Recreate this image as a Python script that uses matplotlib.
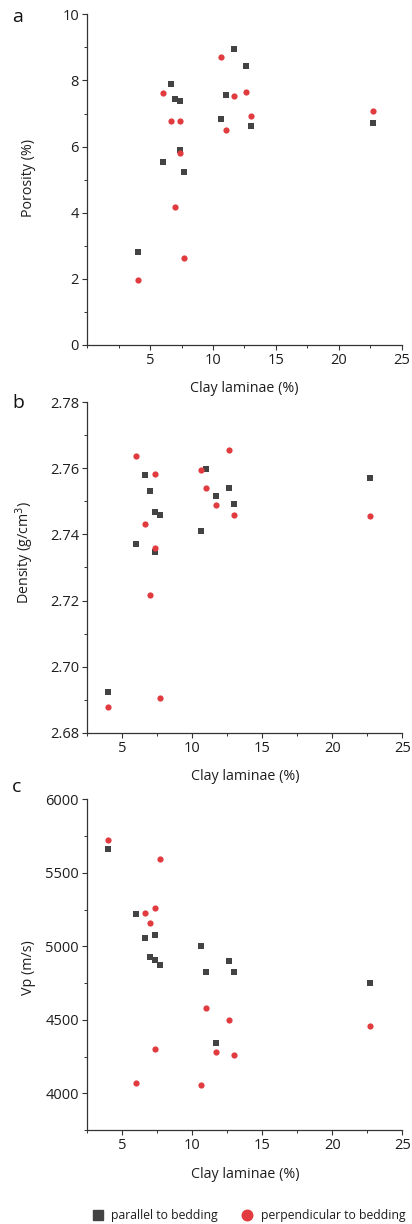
import matplotlib
matplotlib.use("Agg")
import matplotlib.pyplot as plt
from matplotlib.ticker import MultipleLocator, FuncFormatter
from matplotlib.lines import Line2D

plt.rcParams['font.family'] = ['Open Sans', 'DejaVu Sans']

clay = [4.0, 6.0, 6.65, 7.0, 7.35, 7.35, 7.7, 10.65, 11.0, 11.7, 12.65, 13.0, 22.7]

porosity_par = [2.82, 5.54, 7.89, 7.43, 7.38, 5.89, 5.24, 6.84, 7.55, 8.96, 8.45, 6.63, 6.71]
porosity_perp = [1.96, 7.61, 6.76, 4.17, 6.76, 5.81, 2.63, 8.72, 6.51, 7.52, 7.66, 6.91, 7.08]

density_par = [2.6922, 2.7370, 2.7579, 2.7533, 2.7467, 2.7347, 2.7459, 2.7409, 2.7597,
               2.7516, 2.7541, 2.7493, 2.7570]
density_perp = [2.6878, 2.7638, 2.7433, 2.7218, 2.7584, 2.7358, 2.6906, 2.7595, 2.7541,
                2.7489, 2.7655, 2.7459, 2.7455]

vp_par = [5659, 5218, 5059, 4926, 5074, 4909, 4870, 5001, 4822, 4342, 4897, 4827, 4749]
vp_perp = [5724, 4070, 5224, 5156, 5258, 4301, 5595, 4056, 4583, 4281, 4497, 4261, 4456]

panel_letters = ['a', 'b', 'c']
y_labels = ['Porosity (%)', 'Density (g/cm$^3$)', 'Vp (m/s)']
x_label = 'Clay laminae (%)'
x_ticks = [5, 10, 15, 20, 25]
legend_labels = ['parallel to bedding', 'perpendicular to bedding']

SQ = '#434343'
RED = '#e13b3f'
SPINE = '#333333'
TXT = '#1e1e1e'
TICK_FS = 10.5
LAB_FS = 10.3

fig = plt.figure(figsize=(4.12, 12.24), dpi=100)
W, H = 412.0, 1224.0

def ax_at(left, top, right, bottom):
    return fig.add_axes([left / W, 1 - bottom / H, (right - left) / W, (bottom - top) / H])

boxes = [(87.3, 14.3, 401.7, 345.0),
         (87.3, 402.3, 402.3, 732.7),
         (87.3, 799.3, 402.3, 1130.0)]
axes = [ax_at(*b) for b in boxes]

data = [(porosity_par, porosity_perp), (density_par, density_perp), (vp_par, vp_perp)]
xlims = [(0, 25), (2.5, 25), (2.5, 25)]
ylims = [(0, 10), (2.68, 2.78), (3750, 6000)]
ymaj = [2, 0.02, 500]
ymin = [1, 0.01, 250]
yfmt = ['{:.0f}', '{:.2f}', '{:.0f}']
letter_base = [22.3, 408.3, 791.7]
ylab_center = [178, 552, 968]

for i, ax in enumerate(axes):
    par, perp = data[i]
    ax.scatter(clay, par, marker='s', s=14, color=SQ, linewidths=0, zorder=3)
    ax.scatter(clay, perp, marker='o', s=20, color=RED, linewidths=0, zorder=3)
    ax.set_xlim(*xlims[i])
    ax.set_ylim(*ylims[i])
    ax.xaxis.set_minor_locator(MultipleLocator(2.5))
    ax.yaxis.set_major_locator(MultipleLocator(ymaj[i]))
    ax.yaxis.set_minor_locator(MultipleLocator(ymin[i]))
    ax.set_xticks(x_ticks)
    ax.set_xticklabels([str(t) for t in x_ticks])
    fmt = yfmt[i]
    ax.yaxis.set_major_formatter(FuncFormatter(lambda v, p, f=fmt: f.format(v)))
    for s in ['top', 'right']:
        ax.spines[s].set_visible(False)
    for s in ['left', 'bottom']:
        ax.spines[s].set_color(SPINE)
        ax.spines[s].set_linewidth(0.9)
    ax.tick_params(which='major', direction='out', length=3.5, width=0.8, color=SPINE,
                   labelsize=TICK_FS, pad=2.5, labelcolor=TXT)
    ax.tick_params(which='minor', direction='out', length=2.0, width=0.7, color=SPINE)
    left, top, right, bottom = boxes[i]
    ax.set_ylabel(y_labels[i], fontsize=LAB_FS, color=TXT)
    ax.yaxis.set_label_coords((36 - left) / (right - left),
                              (bottom - ylab_center[i]) / (bottom - top))
    ax.set_xlabel(x_label, fontsize=LAB_FS, color=TXT)
    ax.xaxis.set_label_coords(0.5, -36.5 / (bottom - top))
    fig.text(12 / W, 1 - letter_base[i] / H, panel_letters[i], fontsize=14, color='#111111',
             va='baseline', ha='left')

handles = [Line2D([], [], marker='s', linestyle='', color=SQ, markersize=7),
           Line2D([], [], marker='o', linestyle='', color=RED, markersize=7.6)]
fig.legend(handles, legend_labels, loc='center', bbox_to_anchor=(248.6 / W, 1 - 1215.5 / H),
           ncol=2, frameon=False, fontsize=8.8, handletextpad=0.6, columnspacing=1.9,
           handlelength=1.0, labelcolor=TXT)

fig.savefig('out.png', dpi=100)
